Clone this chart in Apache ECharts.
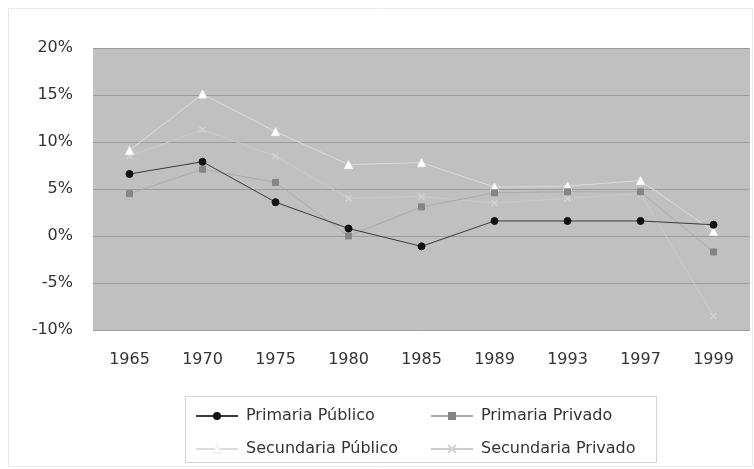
<!DOCTYPE html>
<html><head><meta charset="utf-8">
<script src="https://cdn.jsdelivr.net/npm/echarts@6/dist/echarts.min.js"></script>
<style>html,body{margin:0;padding:0;background:#fff}#c{width:754px;height:469px}</style>
</head><body><div id="c"></div>
<script>
const years = ['1965','1970','1975','1980','1985','1989','1993','1997','1999'];
const primariaPublico = [6.6, 7.9, 3.6, 0.8, -1.1, 1.6, 1.6, 1.6, 1.2];
const primariaPrivado = [4.5, 7.1, 5.7, 0.0, 3.1, 4.6, 4.7, 4.7, -1.7];
const secundariaPublico = [9.1, 15.1, 11.1, 7.6, 7.8, 5.2, 5.3, 5.9, 0.5];
const secundariaPrivado = [8.5, 11.3, 8.5, 4.0, 4.2, 3.5, 4.0, 4.5, -8.5];
const yTicks = {min: -10, max: 20, step: 5};

const xPath = 'path://M0,0 L10,10 M10,0 L0,10';
const font = 'DejaVu Sans, Verdana, sans-serif';
const chart = echarts.init(document.getElementById('c'));
function lg(name, left, top){
  return {data:[name], left:left, top:top, itemWidth:42, itemHeight:10, padding:0, itemGap:0,
    textStyle:{fontFamily:font, fontSize:16, color:'#333', padding:[0,0,0,3]}};
}
chart.setOption({
  animation:false,
  backgroundColor:'#fff',
  graphic:[
    {type:'rect', shape:{x:8.5,y:8.5,width:744,height:458}, style:{fill:'none', stroke:'#e8e8e8', lineWidth:1}, silent:true},
    {type:'rect', shape:{x:185.5,y:396.5,width:471,height:66}, style:{fill:'none', stroke:'#d4d4d4', lineWidth:1}, silent:true}
  ],
  legend:[
    lg('Primaria Público', 195, 408),
    lg('Primaria Privado', 430, 408),
    lg('Secundaria Público', 195, 441),
    lg('Secundaria Privado', 430, 441)
  ],
  grid:{left:93, right:4, top:48, bottom:139, show:true, backgroundColor:'#c0c0c0', borderWidth:0},
  xAxis:{type:'category', data:years, boundaryGap:true,
    axisLine:{show:false}, axisTick:{show:false},
    axisLabel:{fontFamily:font, fontSize:16, color:'#333', margin:22}},
  yAxis:{type:'value', min:yTicks.min, max:yTicks.max, interval:yTicks.step,
    axisLine:{show:false}, axisTick:{show:false},
    axisLabel:{formatter:'{value}%', fontFamily:font, fontSize:16, color:'#333', margin:20},
    splitLine:{lineStyle:{color:'#9c9c9c', width:1}}},
  series:[
    {name:'Secundaria Privado', type:'line', data:secundariaPrivado, symbol:xPath, symbolSize:6,
      lineStyle:{color:'#cbcbcb', width:1}, itemStyle:{color:'#d2d2d2', borderColor:'#d2d2d2', borderWidth:1.5}, z:2},
    {name:'Secundaria Público', type:'line', data:secundariaPublico, symbol:'triangle', symbolSize:8,
      lineStyle:{color:'#dcdcdc', width:1}, itemStyle:{color:'#ffffff', borderColor:'#f4f4f4', borderWidth:1}, z:3},
    {name:'Primaria Privado', type:'line', data:primariaPrivado, symbol:'rect', symbolSize:6,
      lineStyle:{color:'#ababab', width:1}, itemStyle:{color:'#858585', borderColor:'#858585'}, z:4},
    {name:'Primaria Público', type:'line', data:primariaPublico, symbol:'circle', symbolSize:7,
      lineStyle:{color:'#3a3a3a', width:1}, itemStyle:{color:'#111', borderColor:'#111'}, z:5}
  ]
});
</script></body></html>
